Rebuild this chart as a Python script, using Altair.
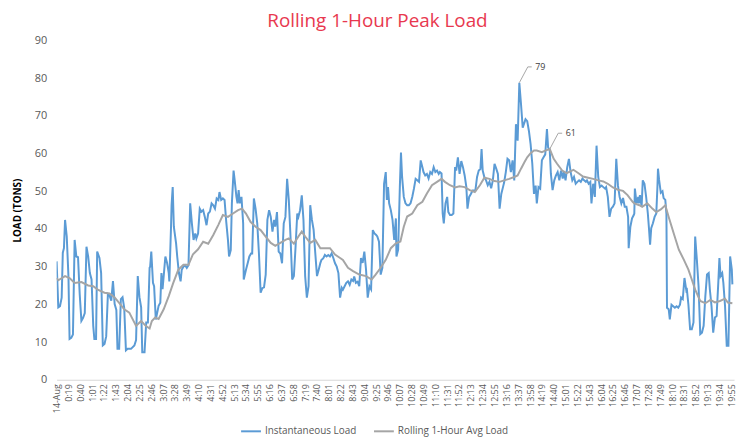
import altair as alt
import pandas as pd
import json

# ---- data (minutes from the first category label, load in tons) ----
x_labels = ["14-Aug","0:19","0:40","1:01","1:22","1:43","2:04","2:25","2:46","3:07","3:28","3:49",
            "4:10","4:31","4:52","5:13","5:34","5:55","6:16","6:37","6:58","7:19","7:40","8:01",
            "8:22","8:43","9:04","9:25","9:46","10:07","10:28","10:49","11:10","11:31","11:52",
            "12:13","12:34","12:55","13:16","13:37","13:58","14:19","14:40","15:01","15:22",
            "15:43","16:04","16:25","16:46","17:07","17:28","17:49","18:10","18:31","18:52",
            "19:13","19:34","19:55"]
label_step = 21
y_ticks = [0, 10, 20, 30, 40, 50, 60, 70, 80, 90]

inst_t = [0,3,6,9,11,13,15,18,21,23,26,29,32,35,38,41,44,47,50,53,56,59,62,65,67,70,72,76,79,82,
          85,88,91,94,97,100,103,106,108,111,114,117,120,123,126,132,138,141,144,147,150,152,156,
          159,162,165,166,168,171,173,176,178,181,184,186,188,191,193,196,199,200,203,204,206,208,
          212,214,217,220,222,225,228,231,234,237,240,243,246,248,251,254,257,260,263,266,269,272,
          275,278,281,284,287,289,292,295,298,301,304,306,309,311,314,316,319,321,323,325,328,331,
          332,336,339,342,345,347,350,353,356,359,362,365,368,371,374,377,380,383,386,388,391,394,
          397,400,403,406,409,412,415,418,421,424,427,429,432,435,438,441,444,447,450,453,456,459,
          462,465,468,470,473,476,479,482,485,488,491,494,497,500,503,506,508,511,514,517,520,523,
          526,528,531,534,537,540,543,546,549,552,555,558,561,564,567,569,572,575,578,581,584,586,
          588,590,593,596,599,602,603,606,609,611,613,616,619,622,625,628,631,634,637,640,643,646,
          649,651,654,657,660,663,666,669,672,675,678,680,683,685,687,690,693,695,698,701,704,707,
          709,712,715,718,721,724,727,729,732,735,738,741,743,746,749,752,754,756,759,762,765,768,
          771,774,777,780,783,786,789,792,794,797,800,803,806,809,812,815,818,821,824,827,830,832,
          835,838,841,844,847,850,852,855,858,861,864,867,870,872,875,877,880,883,886,889,892,895,
          898,900,903,906,909,912,915,918,921,924,927,930,933,936,939,941,944,947,949,952,955,958,
          961,964,967,970,973,975,978,981,984,987,990,993,996,999,1002,1005,1008,1011,1014,1015,
          1018,1021,1024,1025,1026,1029,1032,1033,1035,1038,1040,1043,1046,1049,1051,1053,1055,
          1058,1061,1064,1066,1067,1069,1072,1075,1077,1080,1082,1083,1086,1088,1091,1094,1097,
          1100,1103,1106,1108,1111,1114,1117,1118,1121,1124,1127,1130,1133,1136,1139,1142,1145,
          1148,1151,1154,1157,1159,1162,1165,1168,1171,1174,1176,1178,1181,1183,1186,1189,1192,
          1195,1198,1199]
inst_v = [31.4,19.2,19.5,21.8,33.7,34.9,42.4,38.0,27.5,10.8,11.1,12.0,37.1,32.7,32.5,22.7,15.6,16.4,
          17.7,35.3,32.7,28.3,26.6,14.3,10.8,10.8,34.0,32.3,28.3,9.1,9.5,11.5,22.7,22.3,21.0,26.2,
          20.1,18.5,8.2,8.2,21.4,21.9,19.0,7.8,8.2,8.2,9.1,10.5,27.5,21.9,19.2,7.3,7.3,15.2,15.2,29.7,
          30.0,34.0,25.7,24.8,16.0,17.4,19.6,20.4,28.3,24.0,29.2,32.7,31.0,28.3,26.1,40.6,46.3,51.1,
          40.6,36.2,32.7,28.3,26.1,29.2,30.0,30.4,29.7,30.4,46.8,41.5,37.1,38.8,37.5,38.8,45.4,44.6,
          45.0,43.2,41.0,44.1,44.6,46.8,46.3,45.4,48.1,47.7,49.8,47.7,48.1,47.7,41.9,37.1,32.7,34.4,
          46.8,55.5,52.9,48.6,46.8,50.3,46.8,48.5,41.5,26.6,29.2,30.9,32.7,33.5,33.5,48.1,45.4,41.5,
          33.5,23.1,24.3,24.5,27.9,42.4,45.0,43.2,39.3,42.4,40.6,44.5,34.0,33.5,30.9,41.5,43.2,53.3,
          47.7,38.0,26.6,27.5,35.3,44.1,43.2,45.0,48.9,42.4,27.5,21.8,24.8,46.3,42.4,39.8,33.5,27.5,
          29.2,31.0,31.8,32.2,33.1,32.7,33.1,32.7,33.5,32.3,30.9,30.0,28.3,21.8,24.4,23.9,24.8,25.7,
          26.1,25.2,26.6,26.2,27.4,25.7,26.0,24.8,32.3,31.0,34.0,29.2,21.8,24.8,24.0,39.7,38.8,38.4,
          38.0,36.6,27.9,29.7,52.0,55.1,47.7,51.1,46.8,45.0,42.4,37.1,42.8,32.7,34.5,51.1,60.3,53.8,
          48.5,46.8,46.3,46.3,46.8,48.5,50.7,53.3,52.9,52.5,58.2,56.4,55.1,54.2,54.6,53.4,55.1,54.6,
          56.4,55.1,55.5,54.6,55.1,54.7,44.1,41.5,46.8,48.5,44.5,43.7,43.7,44.1,56.4,55.5,59.0,54.6,
          58.0,56.4,54.2,51.1,45.4,48.5,49.3,50.2,50.2,50.2,53.8,55.5,55.9,61.2,55.5,53.7,52.9,51.6,
          52.5,50.8,52.9,57.3,56.0,54.6,45.4,49.3,51.1,52.3,55.1,58.6,58.2,55.1,58.2,52.9,67.8,63.4,
          78.8,73.1,66.9,68.2,69.1,68.6,66.0,62.5,57.3,49.3,51.5,46.8,51.1,50.7,58.2,59.0,59.8,66.5,
          61.7,60.8,54.6,50.3,52.9,54.2,55.1,52.9,55.5,53.4,55.1,52.9,56.4,58.6,55.1,52.9,53.8,52.0,
          52.5,52.9,52.5,53.4,52.9,52.5,52.9,52.0,52.5,46.8,52.0,48.5,62.1,53.8,51.1,51.5,51.1,50.7,
          51.1,48.5,43.2,45.4,45.9,46.8,58.6,51.5,48.5,46.8,48.2,45.9,45.9,43.2,34.9,40.6,42.8,43.7,
          44.1,50.7,46.8,48.5,46.8,49.0,45.9,52.9,52.0,48.5,44.1,40.2,35.8,40.2,41.5,43.2,44.1,51.1,
          56.0,53.0,49.6,50.0,48.2,47.7,43.9,19.1,18.7,16.0,19.9,19.5,19.1,19.5,19.1,19.9,21.8,21.4,
          27.0,24.0,24.4,19.9,13.4,13.4,15.2,38.0,31.8,24.8,12.1,12.5,14.3,22.1,27.9,28.3,24.0,19.5,
          12.5,16.5,16.9,25.7,32.3,27.5,28.3,25.7,19.5,9.0,9.0,32.7,29.2,25.3]

avg_t = [0,3,15,23,32,44,56,65,73,85,94,103,111,120,129,141,150,158,165,169,175,181,190,199,207,
         216,225,234,242,251,260,269,278,287,295,304,313,322,329,336,344,353,362,371,380,388,397,
         406,412,421,429,435,441,450,459,468,476,485,494,503,508,517,526,537,549,559,566,575,584,
         593,602,610,616,622,631,640,649,657,666,675,683,689,698,707,715,724,733,742,751,759,768,
         777,786,794,803,812,818,824,830,835,841,847,852,861,867,875,882,888,897,905,917,926,934,
         943,952,961,970,978,987,996,1005,1013,1022,1025,1034,1039,1048,1057,1064,1072,1080,1086,
         1095,1104,1113,1121,1127,1133,1142,1151,1160,1168,1177,1186,1191,1199]
avg_v = [27.0,26.4,27.5,27.0,25.7,25.9,25.0,24.8,23.9,23.1,22.9,21.8,20.4,18.7,17.8,14.3,15.6,14.3,
         13.6,15.6,16.5,16.1,18.7,22.2,25.7,29.2,30.5,30.5,33.3,34.6,36.6,36.1,38.4,41.1,43.7,43.2,
         44.1,45.0,45.4,44.1,41.9,40.6,39.7,38.0,36.3,35.5,36.3,37.1,37.5,36.1,38.0,39.3,38.0,36.3,
         37.1,34.9,34.9,34.9,33.2,32.3,31.8,29.7,28.8,27.9,27.5,26.6,27.9,29.7,31.8,34.9,36.2,36.7,
         40.6,43.3,44.1,46.3,47.2,49.4,51.6,52.5,53.3,52.5,51.6,51.0,51.3,51.1,50.3,49.8,51.6,53.6,
         53.3,52.7,52.5,52.9,53.3,53.8,54.2,56.0,57.7,59.0,60.1,60.8,60.8,60.4,60.8,61.2,58.6,57.3,
         55.5,54.8,55.7,54.8,53.9,53.6,53.3,52.9,52.6,52.0,51.0,50.4,50.1,49.0,47.2,46.8,46.3,45.9,
         46.8,45.4,44.5,45.2,46.3,43.2,38.8,34.5,31.8,29.2,26.6,23.9,20.9,20.3,21.2,20.5,20.9,21.5,
         20.5,20.3]

s_inst = "Instantaneous Load"
s_avg = "Rolling 1-Hour Avg Load"
blue = "#5B9BD5"
gray = "#A5A5A5"
FONT = "Open Sans"

df = pd.concat([
    pd.DataFrame({"t": inst_t, "load": inst_v, "series": s_inst}),
    pd.DataFrame({"t": avg_t, "load": avg_v, "series": s_avg}),
])

# annotation anchors taken from each series' maximum
def peak(ts, vs):
    i = max(range(len(vs)), key=lambda k: vs[k])
    return ts[i], vs[i]

ann_rows, lead_rows = [], []
for name, (pt, pv) in [("inst", peak(inst_t, inst_v)), ("avg", peak(avg_t, avg_v))]:
    ann_rows.append({"t": pt + 23, "load": pv + 4.2, "txt": str(round(pv))})
    lead_rows += [{"g": name, "o": 0, "t": pt, "load": pv},
                  {"g": name, "o": 1, "t": pt + 15, "load": pv + 4.2},
                  {"g": name, "o": 2, "t": pt + 22, "load": pv + 4.2}]
ann = pd.DataFrame(ann_rows)
lead = pd.DataFrame(lead_rows)

xmax = 1202
xscale = alt.Scale(domain=[0, xmax], nice=False, zero=False)
yscale = alt.Scale(domain=[0, 90], nice=False)

label_expr = json.dumps(x_labels) + "[round(datum.value / %d)]" % label_step

x_enc = alt.X("t:Q", scale=xscale,
              axis=alt.Axis(values=[i * label_step for i in range(len(x_labels))],
                            labelExpr=label_expr, labelAngle=270, labelFontSize=9,
                            labelColor="#595959", labelFont=FONT, ticks=False,
                            domainColor="#D9D9D9", domainWidth=1, grid=False,
                            labelPadding=4, title=None, labelOverlap=False,
                            labelBound=False, labelFlush=False))
y_enc = alt.Y("load:Q", scale=yscale,
              axis=alt.Axis(values=y_ticks, grid=False, domain=False, ticks=False,
                            labelFontSize=11, labelColor="#595959", labelFont=FONT,
                            labelPadding=10, labelOverlap=False, title="LOAD (TONS)",
                            titleFont=FONT, titleFontSize=10, titleFontWeight="bold",
                            titleColor="#000000", titlePadding=12))

lines = alt.Chart(df).mark_line(strokeWidth=2, clip=True).encode(
    color=alt.Color("series:N",
                    scale=alt.Scale(domain=[s_inst, s_avg], range=[blue, gray]),
                    legend=alt.Legend(title=None, orient="none", legendX=185, legendY=383,
                                      direction="horizontal", symbolType="stroke",
                                      symbolStrokeWidth=2, symbolSize=400,
                                      labelFontSize=10, labelColor="#595959",
                                      labelFont=FONT, columnPadding=13, labelOffset=3)),
    detail="series:N",
    order=alt.Order("t:Q"),
)

leaders = alt.Chart(lead).mark_line(color="#A6A6A6", strokeWidth=1).encode(
    detail="g:N", order="o:Q")

texts = alt.Chart(ann).mark_text(align="left", baseline="middle", dx=3, fontSize=9,
                                 font=FONT, color="#404040").encode(text="txt:N")

chart = alt.layer(lines, leaders, texts).encode(x=x_enc, y=y_enc).properties(
    width=683, height=342,
    title=alt.TitleParams("Rolling 1-Hour Peak Load", color="#E8384F", fontSize=19,
                          font=FONT, fontWeight="normal", anchor="middle", dx=-18,
                          offset=4),
    autosize=alt.AutoSizeParams(type="none"),
    padding={"left": 49, "top": 31, "right": 8, "bottom": 62},
).configure_view(stroke=None)

chart.save("out.html", embed_options={"renderer": "svg", "actions": False})
